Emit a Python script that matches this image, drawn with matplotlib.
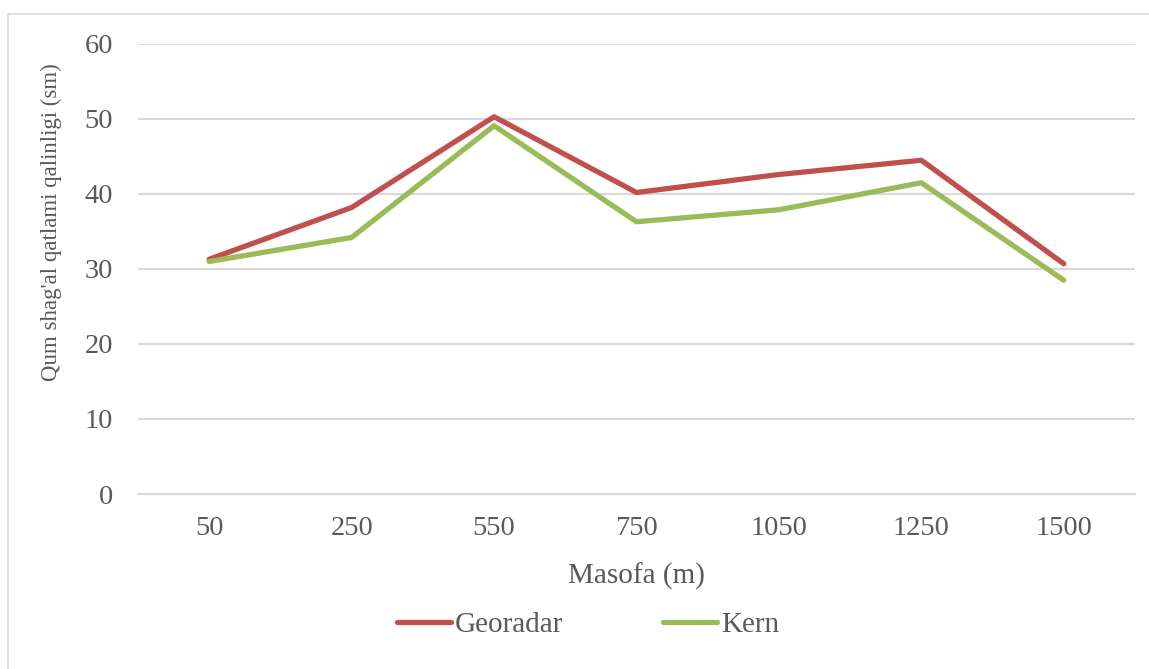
import matplotlib.pyplot as plt
import numpy as np

# data
distances = ["50", "250", "550", "750", "1050", "1250", "1500"]
georadar = [31.3, 38.2, 50.3, 40.2, 42.6, 44.5, 30.7]
kern = [31.0, 34.2, 49.1, 36.3, 37.9, 41.5, 28.5]

plt.rcParams['font.family'] = ['Liberation Serif', 'DejaVu Serif']
text_color = "#595959"

fig = plt.figure(figsize=(11.49, 6.69), dpi=100)
ax = fig.add_axes([138 / 1149, 1 - 494 / 669, (1135 - 138) / 1149, (494 - 44) / 669])

# chart border (only left and top edges fall inside the picture)
fig.patches.append(plt.Rectangle((8 / 1149, -0.05), 1.2, 1.05 - 14 / 669,
                                 transform=fig.transFigure, fill=False,
                                 edgecolor="#D9D9D9", linewidth=1.2))

x = np.arange(len(distances))
ax.plot(x, georadar, color="#C0504D", linewidth=3.8, label="Georadar",
        solid_capstyle="round", solid_joinstyle="round")
ax.plot(x, kern, color="#9BBB59", linewidth=3.8, label="Kern",
        solid_capstyle="round", solid_joinstyle="round")

ax.set_xlim(-0.5, len(distances) - 0.5)
ax.set_ylim(0, 60)
ax.set_yticks(range(0, 61, 10))
ax.set_xticks(x)
ax.set_xticklabels(distances)
ax.grid(axis="y", color="#D9D9D9", linewidth=1.5)
ax.set_axisbelow(True)
for side in ["top", "right", "left"]:
    ax.spines[side].set_visible(False)
ax.spines["bottom"].set_color("#D9D9D9")
ax.spines["bottom"].set_linewidth(1.5)
ax.tick_params(length=0, labelsize=20.5, colors=text_color)
ax.tick_params(axis="x", pad=16)
ax.tick_params(axis="y", pad=18)

ax.set_xlabel("Masofa (m)", fontsize=21, color=text_color)
ax.xaxis.set_label_coords(0.5, -(576 - 494) / 450)
ax.xaxis.label.set_va("center")
ax.set_ylabel("Qum shag'al qatlami qalinligi (sm)", fontsize=16.5, color=text_color)
ax.yaxis.set_label_coords((51 - 138) / 997, (494 - 222) / 450)
ax.yaxis.label.set_va("center")

fig.legend(loc="center", bbox_to_anchor=(588 / 1149, 1 - 625 / 669), ncol=2, frameon=False,
           fontsize=21, labelcolor=text_color, handlelength=1.85, handletextpad=0.15,
           columnspacing=3.4)

fig.savefig("out.png")
